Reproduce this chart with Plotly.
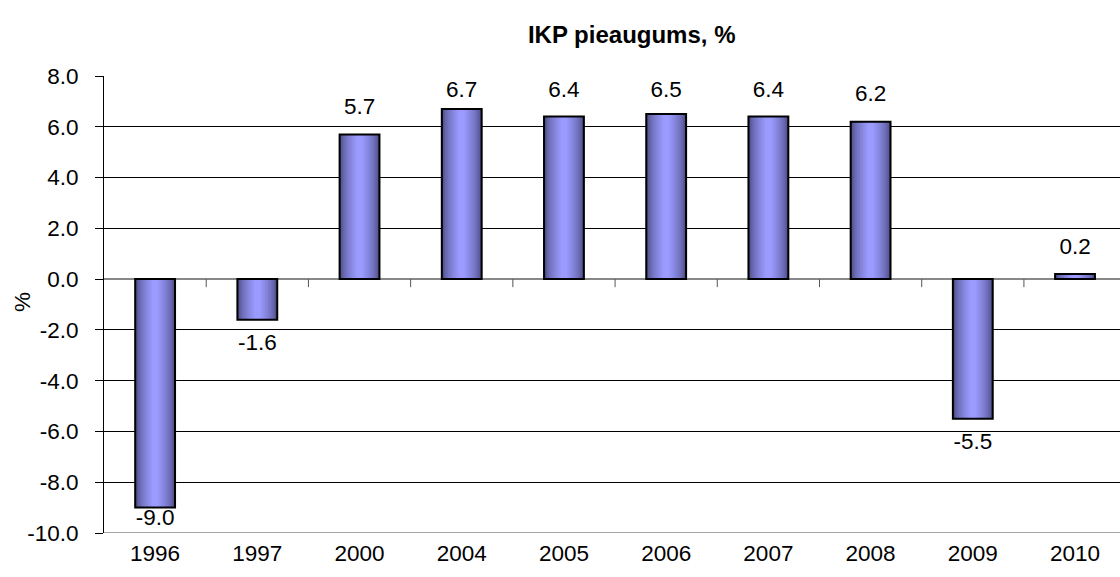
import plotly.graph_objects as go

years = ["1996", "1997", "2000", "2004", "2005", "2006", "2007", "2008", "2009", "2010"]
growth = [-9.0, -1.6, 5.7, 6.7, 6.4, 6.5, 6.4, 6.2, -5.5, 0.2]
labels = ["%.1f" % v for v in growth]
y_ticks = [-10, -8, -6, -4, -2, 0, 2, 4, 6, 8]
y_tick_text = ["%.1f" % v for v in y_ticks]

FONT = "Liberation Sans, Arial, sans-serif"
FS = 22.5
x_idx = list(range(len(years)))

fig = go.Figure()

# gradient-like bars: layered from wide/dark to narrow/light
n_layers = 12
bar_w = 0.39
dark = (72, 72, 125)
light = (155, 155, 255)
for i in range(n_layers):
    t = i / (n_layers - 1)
    t2 = t ** 0.6
    c = tuple(int(dark[k] + (light[k] - dark[k]) * t2) for k in range(3))
    w = bar_w * (1 - 0.85 * t)
    fig.add_trace(go.Bar(
        x=x_idx, y=growth, width=w,
        marker=dict(color="rgb(%d,%d,%d)" % c, line=dict(width=0)),
        hoverinfo="skip", showlegend=False,
    ))
# outline
fig.add_trace(go.Bar(
    x=x_idx, y=growth, width=bar_w,
    marker=dict(color="rgba(0,0,0,0)", line=dict(color="black", width=2)),
    showlegend=False,
))

# data labels
label_y = [min(v + 1.02, 7.4) if v >= 0 else max(v - 0.98, -9.45) for v in growth]
fig.add_trace(go.Scatter(
    x=x_idx, y=label_y, mode="text", text=labels,
    textfont=dict(family=FONT, size=FS, color="black"),
    textposition="middle center", showlegend=False, cliponaxis=False,
))

# x-axis tick marks at category boundaries on the zero line
for b in range(len(years) - 1):
    fig.add_shape(type="line", xref="x", yref="y", x0=b + 0.5, x1=b + 0.5,
                  ysizemode="pixel", yanchor=0, y0=0, y1=-8,
                  line=dict(color="#555555", width=1))

fig.update_layout(
    barmode="overlay",
    width=1120, height=577,
    margin=dict(l=104, r=0, t=76, b=44),
    plot_bgcolor="white", paper_bgcolor="white",
    font=dict(family=FONT, size=FS, color="black"),
    title=dict(text="<b>IKP pieaugums, %</b>", x=0.564, xanchor="center",
               y=1 - 35 / 577, yanchor="middle",
               font=dict(family=FONT, size=24, color="black")),
    xaxis=dict(
        range=[-0.5, 9.44], tickmode="array", tickvals=x_idx, ticktext=years,
        showgrid=False, zeroline=False, showline=False, ticks="",
        tickfont=dict(family=FONT, size=FS), ticklabelstandoff=4,
    ),
    yaxis=dict(
        range=[-10, 8], tickmode="array", tickvals=y_ticks, ticktext=y_tick_text,
        showgrid=True, gridcolor="black", gridwidth=1,
        zeroline=True, zerolinecolor="#888888", zerolinewidth=1.5,
        showline=True, linecolor="black", linewidth=1,
        ticks="outside", ticklen=8, tickcolor="black",
        tickfont=dict(family=FONT, size=FS), ticklabelstandoff=12,
    ),
    annotations=[dict(text="%", textangle=-90, xref="paper", yref="paper",
                      x=(22 - 104) / 1016, y=(533 - 302) / 457,
                      xanchor="center", yanchor="middle", showarrow=False,
                      font=dict(family=FONT, size=FS, color="black"))],
)
fig.add_shape(type="line", xref="paper", yref="y", x0=0, x1=1, y0=-10, y1=-10,
              line=dict(color="#888888", width=1.5))

fig.write_html("out.html", config={"displayModeBar": False},
               post_script="document.body.style.margin='0';document.body.style.overflow='hidden';")
